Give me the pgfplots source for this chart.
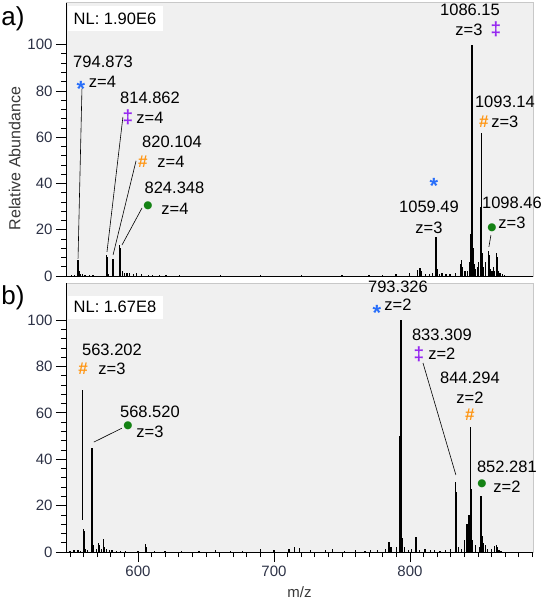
\documentclass[border=0pt]{standalone}
\usepackage{fontspec}
\setmainfont{Liberation Sans}
\newfontfamily\dejavu{DejaVu Sans}
\usepackage{pgfplots}
\pgfplotsset{compat=1.18}
\definecolor{bgc}{RGB}{240,240,240}
\definecolor{bdc}{RGB}{200,200,200}
\definecolor{tcol}{RGB}{45,50,70}
\definecolor{sblue}{RGB}{40,110,250}
\definecolor{spurple}{RGB}{150,40,240}
\definecolor{sorange}{RGB}{255,150,20}
\definecolor{sgreen}{RGB}{20,130,20}
\newcommand{\fs}{\fontsize{15}{18}\selectfont}
\newcommand{\fa}{\fontsize{16.5}{19}\selectfont}
\tikzset{lead/.style={black, line width=0.6pt},
  sast/.style={text=sblue, font=\fontsize{22}{22}\selectfont\bfseries},
  sdag/.style={text=spurple, font=\fontsize{19}{20}\selectfont\bfseries},
  shash/.style={text=sorange, font=\fontsize{17}{18}\selectfont\bfseries},
  sdot/.style={text=sgreen, font=\dejavu\fontsize{10.5}{12}\selectfont}}
\pgfplotsset{
 spec/.style={scale only axis, width=467pt,
  axis x line*=bottom, axis y line*=left,
  axis line style={black, line width=0.9pt},
  axis background/.style={fill=bgc, draw=bdc, line width=1pt},
  ymin=0, ytick={0,20,...,100}, minor y tick num=4,
  tick align=outside, major tick length=10pt, minor tick length=5pt,
  every tick/.style={black, line width=0.8pt},
  tick label style={font=\fs, text=tcol},
  /pgf/number format/assume math mode=true, clip=false},
 stick/.style={ycomb, black, line width=1.3pt, mark=none}
}
\begin{document}
\begin{tikzpicture}[font=\fa]
\begin{axis}[spec, at={(66pt,-3pt)}, anchor=north west, height=273pt,
  xmin=786, xmax=1131.3, ymax=118, xtick=\empty,
  ylabel={Relative Abundance},
  ylabel style={font=\fontsize{16}{18}\selectfont, text=black!78, at={(ticklabel cs:0.43)}}]
\addplot[stick] coordinates {
(790,0.4)(792.5,0.6)(794.87,7)(795.12,6)(795.37,4)(795.62,2)(796.5,1)(798,0.7)(800,0.5)(803.5,0.6)(806,0.4)
(816.0,9)(816.25,8)(816.5,3)(817.5,1)(820.7,7.3)(820.95,6.5)(821.2,3)
(825.6,13.4)(825.85,12)(826.1,6)(826.4,3)(828,2)(829,1.5)(831,1.5)(833,1.2)(836,1)(838,1.2)(842,0.7)(847,0.6)(850,0.5)(855,0.5)(860,0.4)(870,0.3)
(900,0.3)(930,0.4)(960,0.3)(990,0.5)(1010,0.6)(1020,0.5)(1030,1)(1040,1.5)(1046,2.5)(1047.7,3.5)(1049,2)(1052,1)(1055,0.8)(1057,1.5)
(1059.49,17)(1059.74,16)(1059.99,7)(1060.3,3)(1062,1)(1064,1.5)(1067,0.8)(1070,1)(1074,1.5)(1077.5,5)(1078.5,7)(1079,4)(1081,2)(1083,2)
(1084.5,6)(1085.1,18)(1085.6,40)(1086.15,100)(1086.4,65)(1086.7,30)(1087,12)(1088,5)(1089,3)(1090,4)(1091,6)
(1092.7,30)(1093.14,62)(1093.4,28)(1093.7,10)(1094.5,4)(1096,6)(1098.46,11)(1098.9,9)(1099.3,5)(1100,3)(1101,2)(1102,4)(1103,2)
(1104.5,10)(1104.8,8)(1105.2,4)(1106,2)(1107,1.5)(1109,1)(1110,0.5)
};
% annotations
\node at (axis cs:813.4,92.6) {794.873};
\node[sast] at (axis cs:797.1,81.0) {*};
\node at (axis cs:813.0,84) {z=4};
\draw[lead] (axis cs:797.8,81) -- (axis cs:794.9,7.5);
\node at (axis cs:848.1,77.1) {814.862};
\node[sdag] at (axis cs:831.8,68.4) {‡};
\node at (axis cs:848.1,68.4) {z=4};
\draw[lead] (axis cs:828.1,68.8) -- (axis cs:816.3,10.4);
\node at (axis cs:864.4,58) {820.104};
\node[shash] at (axis cs:842.9,49.4) {\#};
\node at (axis cs:863.6,49.4) {z=4};
\draw[lead] (axis cs:837.8,49.8) -- (axis cs:820.8,9.1);
\node at (axis cs:866.2,38.1) {824.348};
\node[sdot] at (axis cs:846.6,30.3) {●};
\node at (axis cs:866.6,29) {z=4};
\draw[lead] (axis cs:842.2,29.4) -- (axis cs:827.4,13.4);
\node at (axis cs:1084.7,115.2) {1086.15};
\node at (axis cs:1083.9,106.5) {z=3};
\node[sdag] at (axis cs:1103.9,106.5) {‡};
\node at (axis cs:1110.5,75.3) {1093.14};
\node[shash] at (axis cs:1095.0,66.7) {\#};
\node at (axis cs:1110.5,66.7) {z=3};
\node[sast, inner sep=0pt] at (axis cs:1058.1,39.0) {*};
\node at (axis cs:1054.4,30.0) {1059.49};
\node at (axis cs:1054.4,21.0) {z=3};
\node at (axis cs:1115.7,31.6) {1098.46};
\node[sdot] at (axis cs:1100.9,20.8) {●};
\node at (axis cs:1115.7,22.9) {z=3};
\draw[lead] (axis cs:1100.2,17.7) -- (axis cs:1098.7,12.6);
\end{axis}

\begin{axis}[spec, at={(66pt,-283pt)}, anchor=north west, height=269pt,
  xmin=547.1, xmax=890.5, ymax=116,
  xtick={600,700,800}, minor xtick={550,560,...,890},
  xlabel={m/z}, xlabel style={font=\fs, text=black!78, yshift=-4pt}]
\addplot[stick] coordinates {
(550,0.4)(553,0.8)(556,1.0)(558,0.6)(560.0,10)(560.3,9)(560.6,4)(561.5,1.5)(563,1)
(566.2,45)(566.5,36)(566.8,7)(567.5,3)(569.5,1.5)(571,4)(571.3,3)(573,1.5)(574.5,5.5)(574.8,5)(575.2,2)(577,1.2)(579,1.0)(581,0.8)(584,0.6)(587,0.5)(591,0.4)
(600,0.4)(605.5,3.5)(606,2)(612,0.5)(620,0.4)(632,0.5)(645,0.6)(657,0.8)(668,0.6)(677,0.5)(690,1.2)(700,0.8)(711,1.5)(715,2)(719,1.6)(727,1)(738,0.8)(743,1.2)(752,0.6)(760,0.8)(767,0.5)(771,1)(776,0.7)(782,1.5)
(784.5,4.5)(786,2)(790,2)(792.8,50)(793.33,100)(793.8,14)(794.3,6)(796,2)(799,1)(801,1.5)(804,4)(804.4,6.5)(805,3)(807,1)(811,1.5)(815,0.8)(818,1)(822,0.6)(826,0.8)(830,1.5)
(833.3,30)(833.8,26)(834.3,7)(835.5,2)(838,1.5)(840,5)(842,12)(843.5,16)(844.29,54)(844.8,27)(845.3,13)(846,5)(848,3)(851,2)
(852.3,24)(852.8,22)(853.3,7)(854,4)(855.5,3)(857,1.5)(860,1.5)(862,2.5)(863.5,3)(864,2)(865.5,1)(867,0.5)
};
\node at (axis cs:580.9,87.1) {563.202};
\node[shash] at (axis cs:559.6,78.9) {\#};
\node at (axis cs:580.9,78.9) {z=3};
\draw[lead] (axis cs:558.8,69.8) -- (axis cs:558.8,13.8);
\node at (axis cs:608.8,60.3) {568.520};
\node[sdot] at (axis cs:592.6,54.3) {●};
\node at (axis cs:608.8,51.7) {z=3};
\draw[lead] (axis cs:588.2,53.4) -- (axis cs:567.6,47.4);
\node at (axis cs:791.2,114.2) {793.326};
\node[sast] at (axis cs:775.7,103.3) {*};
\node at (axis cs:791.2,106.5) {z=2};
\node at (axis cs:823.5,93.5) {833.309};
\node[sdag] at (axis cs:806.6,85.3) {‡};
\node at (axis cs:823.5,85.3) {z=2};
\draw[lead] (axis cs:809.6,81.5) -- (axis cs:833.8,33.2);
\node at (axis cs:844.1,75) {844.294};
\node at (axis cs:844.1,66.4) {z=2};
\node[shash] at (axis cs:844.1,59) {\#};
\node at (axis cs:871.3,36.6) {852.281};
\node[sdot] at (axis cs:852.9,29.3) {●};
\node at (axis cs:871.3,28) {z=2};
\end{axis}
\node[fill=white, minimum width=95pt, minimum height=25pt, inner sep=1pt] at (115pt,-19pt) {NL: 1.90E6};
\node[fill=white, minimum width=95pt, minimum height=23pt, inner sep=1pt] at (115pt,-307pt) {NL: 1.67E8};
\node[font=\fontsize{26}{30}\selectfont] at (13pt,-19pt) {a)};
\node[font=\fontsize{26}{30}\selectfont] at (13pt,-298pt) {b)};
\pgfresetboundingbox
\useasboundingbox (0,0) rectangle (541pt,-604pt);
\end{tikzpicture}
\end{document}
